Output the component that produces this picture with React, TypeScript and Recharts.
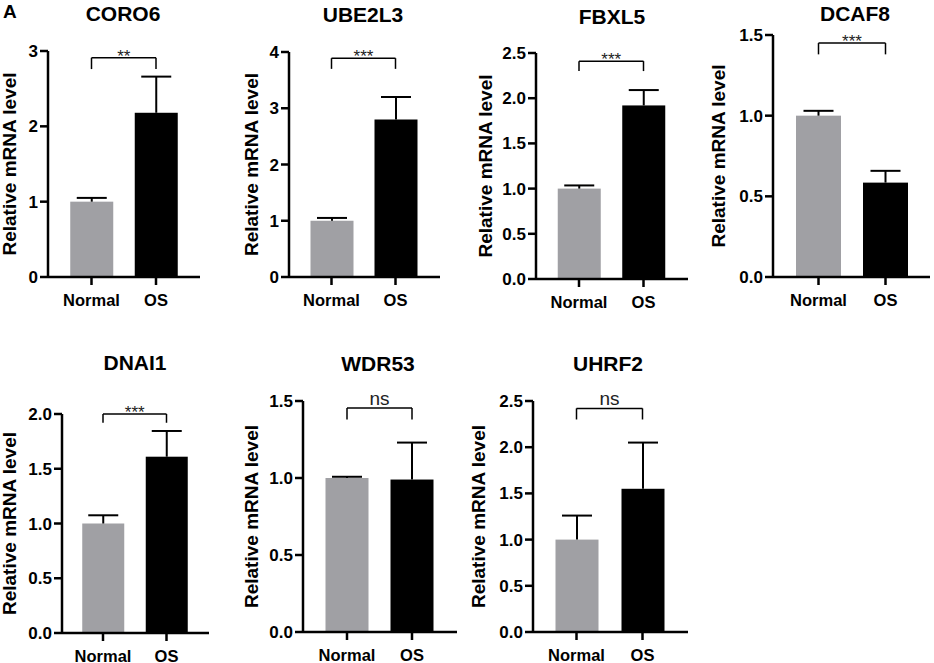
import React from 'react';
import { BarChart, Bar, XAxis, YAxis, ReferenceLine, Label } from 'recharts';

const genes = ['CORO6', 'UBE2L3', 'FBXL5', 'DCAF8', 'DNAI1', 'WDR53', 'UHRF2'];
const groups = ['Normal', 'OS'];
const normalMean = [1, 1, 1, 1, 1, 1, 1];
const osMean = [2.18, 2.8, 1.92, 0.585, 1.61, 0.99, 1.55];
const normalSd = [0.05, 0.05, 0.035, 0.03, 0.075, 0.008, 0.26];
const osSd = [0.48, 0.4, 0.17, 0.073, 0.235, 0.24, 0.5];
const yTicks = [
    [0, 1, 2, 3],
    [0, 1, 2, 3, 4],
    [0, 0.5, 1, 1.5, 2, 2.5],
    [0, 0.5, 1, 1.5],
    [0, 0.5, 1, 1.5, 2],
    [0, 0.5, 1, 1.5],
    [0, 0.5, 1, 1.5, 2, 2.5],
];
const significance = ['**', '***', '***', '***', '***', 'ns', 'ns'];
const bracketY = [2.91, 3.89, 2.41, 1.45, 2.0, 1.455, 2.42];
const bracketLeg = [2.76, 3.7, 2.3, 1.38, 1.92, 1.38, 2.3];

const barColors = ['#a0a0a4', '#000000'];
const FONT = '"Liberation Sans", Arial, Helvetica, sans-serif';

// pixel layout of each panel (axis x, axis end, top tick y, zero y, bar centres, y-label x, title centre)
const layout = [
    { axisX: 48, axisEnd: 200, yTop: 51, y0: 277, c1: 91.5, c2: 156, labelX: 9, titleX: 123, titleY: 13, barW: 43 },
    { axisX: 289, axisEnd: 440, yTop: 52, y0: 277, c1: 331.5, c2: 395.5, labelX: 251, titleX: 363, titleY: 14, barW: 43 },
    { axisX: 536, axisEnd: 688, yTop: 53, y0: 279, c1: 579, c2: 643.5, labelX: 485, titleX: 612, titleY: 16, barW: 43 },
    { axisX: 773, axisEnd: 930, yTop: 35, y0: 277, c1: 818.5, c2: 885.5, labelX: 718, titleX: 855, titleY: 13, barW: 45 },
    { axisX: 62, axisEnd: 209, yTop: 414, y0: 633, c1: 103, c2: 166.5, labelX: 9, titleX: 135, titleY: 362, barW: 42 },
    { axisX: 303, axisEnd: 457, yTop: 401, y0: 632, c1: 347, c2: 412, labelX: 251, titleX: 378, titleY: 363, barW: 43 },
    { axisX: 533, axisEnd: 688, yTop: 401, y0: 632, c1: 576.5, c2: 642.5, labelX: 478, titleX: 608, titleY: 363, barW: 43 },
];

const BarWithError = (props: any) => {
    const { x, y, width, height, payload } = props;
    const cx = x + width / 2;
    const pxPerUnit = payload.mean ? height / payload.mean : 0;
    const top = y - payload.sd * pxPerUnit;
    return (
        <g>
            <rect x={x} y={y} width={width} height={height} fill={payload.color} />
            <line x1={cx} y1={y} x2={cx} y2={top} stroke="#000" strokeWidth={2} />
            <line x1={cx - 15} y1={top} x2={cx + 15} y2={top} stroke="#000" strokeWidth={2} />
        </g>
    );
};

const Panel = ({ i }: { i: number }) => {
    const l = layout[i];
    const mt = 14;
    const left = l.labelX - 12;
    const yW = l.axisX - left;
    const plotW = l.axisEnd - l.axisX;
    const plotH = l.y0 - l.yTop;
    const bw = l.c2 - l.c1;
    const padL = l.c1 - l.axisX - bw / 2;
    const padR = plotW - padL - 2 * bw;
    const data = groups.map((g, k) => ({
        group: g,
        mean: k === 0 ? normalMean[i] : osMean[i],
        sd: k === 0 ? normalSd[i] : osSd[i],
        color: barColors[k],
    }));
    const isInt = yTicks[i][1] === 1;
    const sig = significance[i];
    const axisStyle = { stroke: '#000', strokeWidth: 2.5 };

    return (
        <>
            <div
                style={{
                    position: 'absolute', left: l.titleX, top: l.titleY, transform: 'translate(-50%, -50%)',
                    fontFamily: FONT, fontWeight: 'bold', fontSize: 21, whiteSpace: 'nowrap', lineHeight: 1,
                }}
            >
                {genes[i]}
            </div>
            <div style={{ position: 'absolute', left, top: l.yTop - mt }}>
                <BarChart
                    width={yW + plotW + 4}
                    height={mt + plotH + 40}
                    data={data}
                    margin={{ top: mt, right: 4, bottom: 0, left: 0 }}
                >
                    <XAxis
                        dataKey="group"
                        padding={{ left: padL, right: padR }}
                        height={40}
                        interval={0}
                        tickSize={8}
                        tickMargin={9}
                        axisLine={axisStyle}
                        tickLine={axisStyle}
                        tick={{ fill: '#000', fontSize: 16.5, fontWeight: 'bold', fontFamily: FONT }}
                    />
                    <YAxis
                        width={yW}
                        domain={[0, yTicks[i][yTicks[i].length - 1]]}
                        ticks={yTicks[i]}
                        interval={0}
                        tickSize={8}
                        tickMargin={2}
                        tickFormatter={(v: number) => (isInt ? String(v) : v.toFixed(1))}
                        axisLine={axisStyle}
                        tickLine={axisStyle}
                        tick={{ fill: '#000', fontSize: 17, fontWeight: 'bold', fontFamily: FONT }}
                    >
                        <Label
                            content={(p: any) => {
                                const vb = p.viewBox;
                                const cx = vb.x + 12;
                                const cy = vb.y + vb.height / 2;
                                return (
                                    <text
                                        x={cx}
                                        y={cy}
                                        transform={`rotate(-90 ${cx} ${cy})`}
                                        textAnchor="middle"
                                        dominantBaseline="central"
                                        fontFamily={FONT}
                                        fontWeight="bold"
                                        fontSize={19}
                                        fill="#000"
                                    >
                                        Relative mRNA level
                                    </text>
                                );
                            }}
                        />
                    </YAxis>
                    <Bar dataKey="mean" barSize={l.barW} shape={<BarWithError />} isAnimationActive={false} />
                    <ReferenceLine
                        ifOverflow="visible"
                        segment={[{ x: 'Normal', y: bracketY[i] }, { x: 'OS', y: bracketY[i] }]}
                        stroke="#000"
                        strokeWidth={1.5}
                        label={{
                            value: sig,
                            position: 'top',
                            offset: sig === 'ns' ? 3 : -4,
                            fill: '#222',
                            fontSize: sig === 'ns' ? 19 : 17,
                            fontFamily: FONT,
                        }}
                    />
                    <ReferenceLine
                        ifOverflow="visible"
                        segment={[{ x: 'Normal', y: bracketY[i] }, { x: 'Normal', y: bracketLeg[i] }]}
                        stroke="#000"
                        strokeWidth={1.5}
                    />
                    <ReferenceLine
                        ifOverflow="visible"
                        segment={[{ x: 'OS', y: bracketY[i] }, { x: 'OS', y: bracketLeg[i] }]}
                        stroke="#000"
                        strokeWidth={1.5}
                    />
                </BarChart>
            </div>
        </>
    );
};

export default function App() {
    return (
        <div style={{ position: 'absolute', left: 0, top: 0, width: 934, height: 663, background: '#fff' }}>
            <style>{'.recharts-surface { overflow: visible; }'}</style>
            <div
                style={{
                    position: 'absolute', left: 3, top: 2, fontFamily: FONT, fontWeight: 'bold', fontSize: 19,
                    lineHeight: 1,
                }}
            >
                A
            </div>
            {genes.map((_g, i) => (
                <Panel key={i} i={i} />
            ))}
        </div>
    );
}
